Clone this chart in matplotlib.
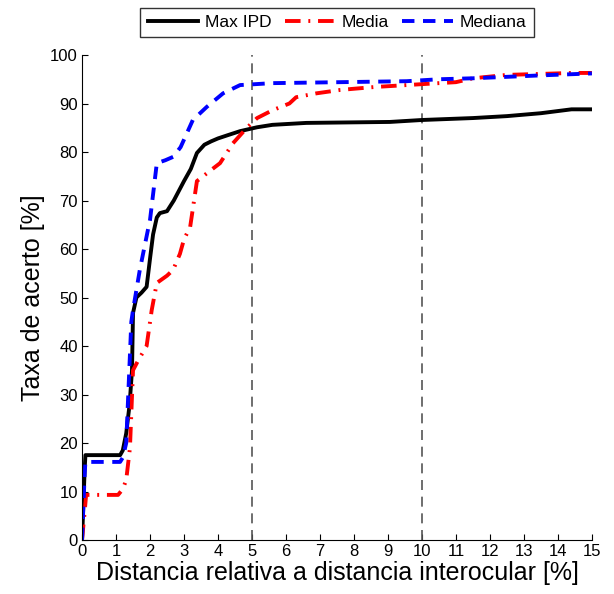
import matplotlib
matplotlib.use('Agg')
from matplotlib import pyplot as plt

plt.rcParams['font.family'] = ['Liberation Sans', 'DejaVu Sans']

# Max IPD curve
x_max = [0, 0.08, 0.1, 1.12, 1.2, 1.3, 1.4, 1.47, 1.5, 1.6, 1.75, 1.9, 2.0, 2.09, 2.2, 2.29,
         2.5, 2.7, 3.0, 3.2, 3.38, 3.6, 3.8, 4.0, 4.3, 4.65, 5.15, 5.6, 6.6, 9.06, 10.0,
         11.5, 12.5, 13.5, 14.4, 15.0]
y_max = [0, 15, 17.5, 17.5, 18.5, 22, 28, 35, 46.8, 50, 51, 52.2, 58, 63, 66.5, 67.4,
         67.8, 70, 74, 76.5, 79.8, 81.5, 82.2, 82.8, 83.5, 84.3, 85.1, 85.6, 86.0, 86.2, 86.6,
         87.0, 87.4, 88.0, 88.8, 88.8]

# Media curve
x_media = [0, 0.08, 0.12, 1.06, 1.2, 1.3, 1.41, 1.5, 1.65, 1.9, 2.05, 2.2, 2.5, 2.68, 2.88,
           3.0, 3.18, 3.38, 3.67, 4.06, 4.44, 4.85, 5.15, 5.6, 6.1, 6.3, 6.9, 7.6, 8.6,
           9.55, 10.5, 11.0, 11.5, 12.5, 13.5, 14.4, 15.0]
y_media = [0, 6, 9.3, 9.3, 10.5, 12.4, 19, 35, 37, 40, 47.4, 53, 54.5, 55.7, 59,
           62, 64.5, 74, 75.6, 77.7, 81.8, 85, 87, 88.6, 90, 91.3, 92.1, 92.8, 93.4,
           93.8, 94.2, 94.4, 95.2, 95.9, 96.1, 96.3, 96.3]

# Mediana curve
x_mediana = [0, 0.08, 0.1, 1.12, 1.2, 1.3, 1.45, 1.5, 1.7, 1.94, 2.0, 2.2, 2.45, 2.68, 2.9,
             3.26, 3.67, 4.15, 4.65, 5.6, 7.6, 9.55, 10.5, 11.5, 12.5, 13.5, 15.0]
y_mediana = [0, 14, 16.1, 16.1, 17, 20, 45, 47.4, 55.7, 64, 66, 77.7, 78.3, 79, 81,
             86.6, 89.3, 92.1, 93.8, 94.2, 94.4, 94.6, 95.0, 95.2, 95.5, 95.8, 96.2]

xticks = list(range(0, 16))
yticks = list(range(0, 101, 10))
vlines = [5, 10]

fig = plt.figure(figsize=(6.14, 5.94), dpi=100)
ax = fig.add_axes([0.1336, 0.0909, 0.8304, 0.8165])

for v in vlines:
    ax.plot([v, v], [0, 100], color='#555555', linestyle=(0, (6, 4)), linewidth=1.2)

ax.plot(x_max, y_max, color='black', linewidth=2.8, label='Max IPD')
ax.plot(x_media, y_media, color='red', linewidth=2.8, linestyle=(0, (4, 2, 0.5, 2)), label='Media')
ax.plot(x_mediana, y_mediana, color='blue', linewidth=2.8, linestyle=(0, (3.2, 2.2)), label='Mediana')

ax.set_xlim(0, 15)
ax.set_ylim(0, 100)
ax.set_xticks(xticks)
ax.set_yticks(yticks)
ax.tick_params(direction='in', length=4, width=0.8, labelsize=12, pad=3)
ax.spines['top'].set_visible(False)
ax.spines['right'].set_visible(False)

ax.set_xlabel('Distancia relativa a distancia interocular [%]', fontsize=18, labelpad=1)
ax.set_ylabel('Taxa de acerto [%]', fontsize=18, labelpad=4)

leg = ax.legend(loc='center', bbox_to_anchor=(0.5, 1.067), ncol=3, fontsize=12.5,
                frameon=True, fancybox=False, edgecolor='black', handlelength=2.9,
                columnspacing=0.75, handletextpad=0.4, borderpad=0.42)
leg.get_frame().set_linewidth(1.0)

fig.savefig('out.png', dpi=100)
